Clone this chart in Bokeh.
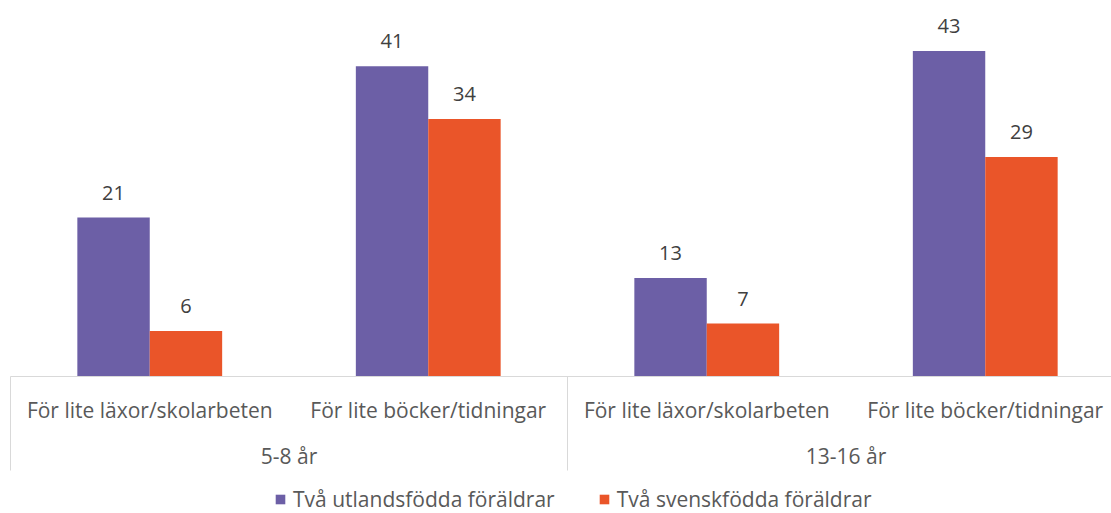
from bokeh.plotting import figure
from bokeh.models import (ColumnDataSource, Range1d, LinearAxis, FixedTicker,
                          Legend, LegendItem)
from bokeh.layouts import column
from bokeh.transform import dodge
from bokeh.core.properties import value
from bokeh.embed import file_html
from bokeh.resources import INLINE

groups = ["5-8 år", "13-16 år"]
categories = ["För lite läxor/skolarbeten", "För lite böcker/tidningar",
              "För lite läxor/skolarbeten", "För lite böcker/tidningar"]
series_names = ["Två utlandsfödda föräldrar", "Två svenskfödda föräldrar"]
utlandsfodda = [21, 41, 13, 43]
svenskfodda = [6, 34, 7, 29]

PURPLE = "#6c5fa6"
ORANGE = "#ea5529"
FONT = "Open Sans"

pos = [i + 0.5 for i in range(len(categories))]
src = ColumnDataSource(dict(
    x=pos, a=utlandsfodda, b=svenskfodda,
    at=[str(v) for v in utlandsfodda], bt=[str(v) for v in svenskfodda],
))

p = figure(frame_width=1101, frame_height=368,
           x_range=Range1d(0, 1101 / 278.5), y_range=Range1d(0, 368 / 7.57),
           x_axis_type=None, y_axis_type=None,
           output_backend="svg", toolbar_location=None,
           min_border_left=10, min_border_right=0, min_border_top=8, min_border_bottom=0)
p.outline_line_color = None
p.xgrid.visible = False
p.ygrid.visible = False

bw = 0.26
ra = p.vbar(x=dodge("x", -bw / 2, range=p.x_range), top="a", width=bw, source=src,
            fill_color=PURPLE, line_color=None)
rb = p.vbar(x=dodge("x", bw / 2, range=p.x_range), top="b", width=bw, source=src,
            fill_color=ORANGE, line_color=None)

for col, txt, off in (("a", "at", -bw / 2), ("b", "bt", bw / 2)):
    p.text(x=dodge("x", off, range=p.x_range), y=col, text=txt, source=src,
           text_align="center", text_baseline="middle", y_offset=-25,
           text_font=value(FONT), text_font_size="20px", text_color="#404040")

# category axis (minor ticks are the group separators)
ax1 = LinearAxis(ticker=FixedTicker(ticks=pos, minor_ticks=[0, 2, 4]))
ax1.major_label_overrides = {pos[i]: categories[i] for i in range(len(pos))}
ax1.axis_line_color = "#d9d9d9"
ax1.major_tick_line_color = None
ax1.major_tick_out = 0
ax1.major_tick_in = 0
ax1.minor_tick_line_color = "#d9d9d9"
ax1.minor_tick_in = 0
ax1.minor_tick_out = 94
ax1.major_label_standoff = -75
ax1.major_label_text_font = FONT
ax1.major_label_text_font_size = "21px"
ax1.major_label_text_color = "#595959"
p.add_layout(ax1, "below")

# group axis
gpos = [1.0, 3.0]
ax2 = LinearAxis(ticker=FixedTicker(ticks=gpos, minor_ticks=[]))
ax2.major_label_overrides = {gpos[i]: groups[i] for i in range(len(gpos))}
ax2.axis_line_color = None
ax2.major_tick_line_color = None
ax2.minor_tick_line_color = None
ax2.major_tick_out = 0
ax2.major_tick_in = 0
ax2.major_label_standoff = 15
ax2.major_label_text_font = FONT
ax2.major_label_text_font_size = "21px"
ax2.major_label_text_color = "#595959"
p.add_layout(ax2, "below")

# legend strip (zero-height proxy renderers, outside the strip's visible range)
pl = figure(width=1111, height=41, x_range=Range1d(0, 1), y_range=Range1d(0, 1),
            x_axis_type=None, y_axis_type=None,
            output_backend="svg", toolbar_location=None, min_border=0)
pl.outline_line_color = None
pl.xgrid.visible = False
pl.ygrid.visible = False
la = pl.vbar(x=[-10], top=[0], width=0.1, fill_color=PURPLE, line_color=None)
lb = pl.vbar(x=[-10], top=[0], width=0.1, fill_color=ORANGE, line_color=None)

legend = Legend(items=[LegendItem(label=series_names[0], renderers=[la]),
                       LegendItem(label=series_names[1], renderers=[lb])],
                orientation="horizontal", location=(264, 0))
legend.border_line_color = None
legend.background_fill_alpha = 0
legend.label_text_font = FONT
legend.label_text_font_size = "21px"
legend.label_text_color = "#595959"
legend.glyph_width = 12
legend.glyph_height = 12
legend.label_standoff = 7
legend.spacing = 43
legend.padding = 0
legend.margin = 0
pl.add_layout(legend, "center")

layout = column(p, pl, spacing=0)
open("out.html", "w").write(file_html(layout, INLINE))
